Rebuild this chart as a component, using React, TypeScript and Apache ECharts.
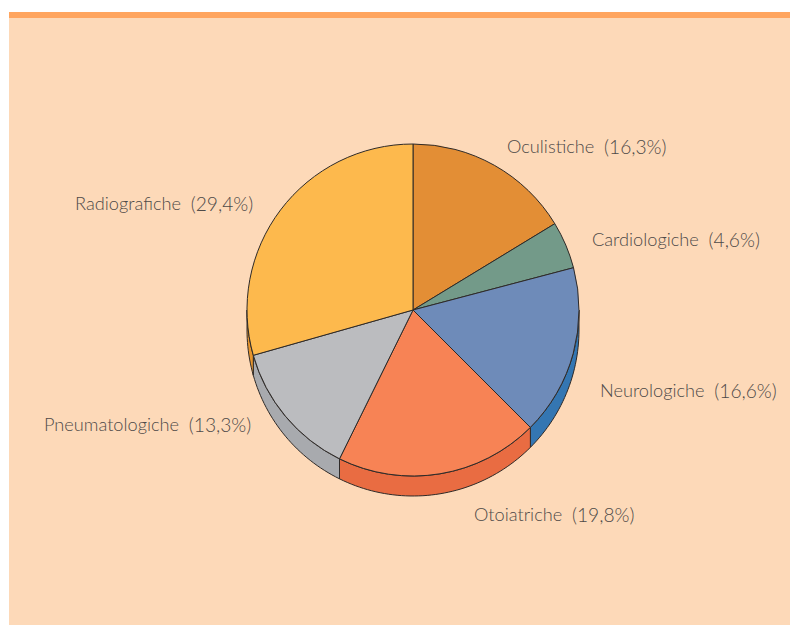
import React, { useEffect, useRef } from "react";
import * as echarts from "echarts";

const categories = ["Oculistiche", "Cardiologiche", "Neurologiche", "Otoiatriche", "Pneumatologiche", "Radiografiche"];
const shares = [16.3, 4.6, 16.6, 19.8, 13.3, 29.4];
const tickLabels = ["16,3%", "4,6%", "16,6%", "19,8%", "13,3%", "29,4%"];
const topColors = ["#E38E35", "#739A89", "#6E8BB9", "#F78355", "#BBBCBF", "#FDB94D"];
const wallColors = ["#C97F30", "#5F8475", "#3476B2", "#E96C42", "#A8AAAE", "#E8962E"];
const labelBoxes = [
  { x: 507, y: 146 },
  { x: 592, y: 239 },
  { x: 600, y: 390 },
  { x: 474, y: 514 },
  { x: 44, y: 424 },
  { x: 75, y: 203 },
];

const CX = 413;
const CY = 310;
const R = 166;
const DEPTH = 20;
const OUTLINE = "#2e2a28";
const TEXT = "#4e4a48";

export default function App() {
  const ref = useRef<HTMLDivElement>(null);
  useEffect(() => {
    document.body.style.margin = "0";
    document.body.style.background = "#fff";
    const chart = echarts.init(ref.current!, undefined, { renderer: "svg" });
    const total = shares.reduce((a, b) => a + b, 0);
    const renderWall = (_: any, api: any) => {
      const idx = api.value(0) as number;
      let before = 0;
      for (let i = 0; i < idx; i++) before += shares[i];
      const a0 = Math.max((before / total) * 360, 90);
      const a1 = Math.min(((before + shares[idx]) / total) * 360, 270);
      if (a1 <= a0) return null;
      const top: number[][] = [];
      const bottom: number[][] = [];
      const steps = Math.ceil((a1 - a0) / 1.5);
      for (let s = 0; s <= steps; s++) {
        const t = ((a0 + ((a1 - a0) * s) / steps) * Math.PI) / 180;
        const x = CX + R * Math.sin(t);
        const y = CY - R * Math.cos(t);
        top.push([x, y]);
        bottom.unshift([x, y + DEPTH]);
      }
      return {
        type: "polygon",
        shape: { points: top.concat(bottom) },
        style: { fill: wallColors[idx], stroke: OUTLINE, lineWidth: 1 },
      };
    };
    chart.setOption({
      animation: false,
      graphic: [
        { type: "rect", z: -10, shape: { x: 9, y: 12, width: 781, height: 613 }, style: { fill: "#FDD9B8" } },
        { type: "rect", z: -9, shape: { x: 9, y: 12, width: 781, height: 6 }, style: { fill: "#FFA55F" } },
      ],
      series: [
        {
          type: "custom",
          coordinateSystem: "none",
          renderItem: renderWall,
          data: categories.map((_, i) => [i, shares[i]]),
          silent: true,
          z: 1,
        },
        {
          type: "pie",
          z: 2,
          center: [CX, CY],
          radius: [0, R],
          startAngle: 90,
          clockwise: true,
          minAngle: 0,
          avoidLabelOverlap: false,
          data: categories.map((name, i) => ({
            name,
            value: shares[i],
            itemStyle: { color: topColors[i], borderColor: OUTLINE, borderWidth: 1 },
          })),
          label: {
            show: true,
            position: "outside",
            fontFamily: "Lato",
            fontWeight: 300,
            fontSize: 18,
            color: TEXT,
            formatter: (p: any) => `{n|${categories[p.dataIndex]}}  {p|(${tickLabels[p.dataIndex]})}`,
            rich: {
              n: { fontFamily: "Lato", fontWeight: 300, fontSize: 18.2, color: TEXT },
              p: { fontFamily: "Lato", fontWeight: 300, fontSize: 19.2, color: TEXT },
            },
          },
          labelLine: { show: false },
          labelLayout: (p: any) => ({
            x: labelBoxes[p.dataIndex].x,
            y: labelBoxes[p.dataIndex].y,
            align: "left",
            verticalAlign: "middle",
          }),
        },
      ],
    });
    return () => chart.dispose();
  }, []);
  return <div ref={ref} style={{ width: 790, height: 625 }} />;
}
